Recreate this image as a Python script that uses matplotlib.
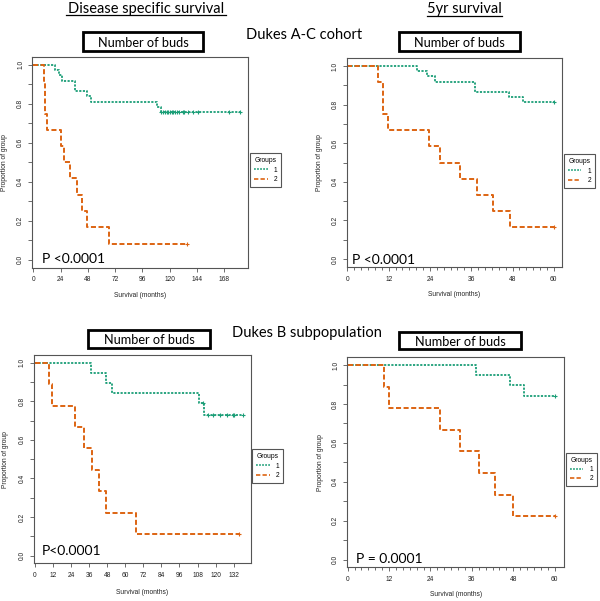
import matplotlib
matplotlib.use("Agg")
import matplotlib.pyplot as plt
import numpy as np
from matplotlib.lines import Line2D
from matplotlib.patches import Rectangle

# ---------------- data ----------------
# Dukes A-C, disease specific survival
ac_dss_g1_t = [0, 19.5, 23, 25.5, 37, 47, 51, 109, 112, 181.8]
ac_dss_g1_s = [1.0, 0.973, 0.946, 0.919, 0.865, 0.838, 0.811, 0.784, 0.757, 0.757]
ac_dss_g1_cens = [112.3, 114, 116, 117.3, 118.8, 120.2, 121.7, 123.2, 124.6, 126.1,
                  128.1, 131.4, 132.9, 136.4, 140.2, 145.2, 172.4, 181.8]
ac_dss_g2_t = [0, 9, 10.5, 12, 24, 27, 32.5, 38, 42.5, 47.5, 67, 135.5]
ac_dss_g2_s = [1.0, 0.917, 0.75, 0.667, 0.583, 0.5, 0.417, 0.333, 0.25, 0.167, 0.083, 0.083]
ac_dss_g2_cens = [135.5]

# Dukes A-C, 5 yr survival
ac_5y_g1_t = [0, 20.2, 23, 25.5, 37, 47, 51, 60]
ac_5y_g1_s = [1.0, 0.973, 0.946, 0.919, 0.865, 0.838, 0.811, 0.811]
ac_5y_g1_cens = [60]
ac_5y_g2_t = [0, 9, 10.4, 11.8, 23.6, 26.8, 32.7, 37.8, 42.4, 47.4, 60]
ac_5y_g2_s = [1.0, 0.917, 0.75, 0.667, 0.583, 0.5, 0.417, 0.333, 0.25, 0.167, 0.167]
ac_5y_g2_cens = [60]

# Dukes B, disease specific survival
b_dss_g1_t = [0, 37, 47, 51, 109, 112.3, 138.4]
b_dss_g1_s = [1.0, 0.947, 0.895, 0.842, 0.789, 0.731, 0.731]
b_dss_g1_cens = [111.8, 115.2, 118.5, 122.9, 127.4, 131.8, 132.4, 138.4]
b_dss_g2_t = [0, 9.5, 11.2, 26.6, 32.6, 38.1, 42.3, 47.3, 66.9, 135.5]
b_dss_g2_s = [1.0, 0.889, 0.778, 0.667, 0.556, 0.444, 0.333, 0.222, 0.111, 0.111]
b_dss_g2_cens = [135.5]

# Dukes B, 5 yr survival
b_5y_g1_t = [0, 37.2, 47.1, 51, 60]
b_5y_g1_s = [1.0, 0.947, 0.895, 0.842, 0.842]
b_5y_g1_cens = [60]
b_5y_g2_t = [0, 10.5, 11.9, 26.7, 32.7, 38.2, 42.8, 47.8, 60]
b_5y_g2_s = [1.0, 0.889, 0.778, 0.667, 0.556, 0.444, 0.333, 0.222, 0.222]
b_5y_g2_cens = [60]

group_labels = ["1", "2"]
y_ticks = [0.0, 0.2, 0.4, 0.6, 0.8, 1.0]
x_ticks_dss_ac = [0, 24, 48, 72, 96, 120, 144, 168]
x_ticks_5y = [0, 12, 24, 36, 48, 60]
x_ticks_dss_b = [0, 12, 24, 36, 48, 60, 72, 84, 96, 108, 120, 132]

p_texts = ["P <0.0001", "P <0.0001", "P<0.0001", "P = 0.0001"]

# ---------------- style ----------------
GREEN = "#1b9e77"
ORANGE = "#dd6412"
FRAME = "#555555"
TXT = ["Lato", "DejaVu Sans"]
SMALL = ["Liberation Sans", "DejaVu Sans"]
G_STYLE = (0, (1.2, 0.8))
O_STYLE = (0, (2.6, 1.3))

W, H = 600, 601
fig = plt.figure(figsize=(6.0, 6.01), dpi=100)
fig.patch.set_facecolor("white")


def fx(x):
    return x / W


def fy(y):
    return 1 - y / H


def axes_px(x0, y0, x1, y1):
    return fig.add_axes([fx(x0), fy(y1), (x1 - x0) / W, (y1 - y0) / H])


panels = [
    dict(box=(32.3, 57, 247.7, 267.5), xlim=(-0.9, 188.6), xt=x_ticks_dss_ac, minor=None,
         g1=(ac_dss_g1_t, ac_dss_g1_s, ac_dss_g1_cens), g2=(ac_dss_g2_t, ac_dss_g2_s, ac_dss_g2_cens),
         leg=(250.3, 153.3), p=(41.7, 263.3)),
    dict(box=(346.7, 58.3, 561.7, 266.7), xlim=(-0.2, 62.3), xt=x_ticks_5y, minor=2,
         g1=(ac_5y_g1_t, ac_5y_g1_s, ac_5y_g1_cens), g2=(ac_5y_g2_t, ac_5y_g2_s, ac_5y_g2_cens),
         leg=(564.0, 154.3), p=(351.7, 264.3)),
    dict(box=(34, 355, 251, 563.3), xlim=(-0.66, 143.5), xt=x_ticks_dss_b, minor=None,
         g1=(b_dss_g1_t, b_dss_g1_s, b_dss_g1_cens), g2=(b_dss_g2_t, b_dss_g2_s, b_dss_g2_cens),
         leg=(252.3, 449.3), p=(41.7, 555.0)),
    dict(box=(347.3, 357.3, 564.3, 567.3), xlim=(-0.1, 62.8), xt=x_ticks_5y, minor=2,
         g1=(b_5y_g1_t, b_5y_g1_s, b_5y_g1_cens), g2=(b_5y_g2_t, b_5y_g2_s, b_5y_g2_cens),
         leg=(566.0, 452.7), p=(356.0, 563.3)),
]

for i, pn in enumerate(panels):
    x0, y0, x1, y1 = pn["box"]
    ax = axes_px(x0, y0, x1, y1)
    ax.set_xlim(*pn["xlim"])
    ax.set_ylim(-0.04, 1.04)

    t1, s1, c1 = pn["g1"]
    t2, s2, c2 = pn["g2"]
    ax.step(t1, s1, where="post", color=GREEN, lw=1.3, linestyle=G_STYLE)
    ax.step(t2, s2, where="post", color=ORANGE, lw=1.4, linestyle=O_STYLE)
    # censor marks at the survival level in force at each time
    for (tt, ss, cc, col) in ((t1, s1, c1, GREEN), (t2, s2, c2, ORANGE)):
        idx = np.searchsorted(np.array(tt), np.array(cc), side="right") - 1
        ax.plot(cc, np.array(ss)[idx], linestyle="none", marker="+", color=col,
                markersize=3.4, markeredgewidth=0.8)

    for sp in ax.spines.values():
        sp.set_color(FRAME)
        sp.set_linewidth(0.8)

    ax.set_yticks(y_ticks)
    ax.set_yticklabels([f"{v:.1f}" for v in y_ticks], rotation=90, va="center",
                       fontfamily=SMALL, fontsize=4.8, color="#222222")
    ax.set_yticks([0.1, 0.3, 0.5, 0.7, 0.9], minor=True)
    ax.set_xticks(pn["xt"])
    ax.set_xticklabels([str(v) for v in pn["xt"]], fontfamily=SMALL, fontsize=4.8,
                       color="#222222")
    if pn["minor"]:
        ax.set_xticks([v for v in range(0, 61, pn["minor"]) if v % 12 != 0], minor=True)
    ax.tick_params(axis="both", which="both", length=2.8, width=0.6, color=FRAME)
    ax.tick_params(axis="y", which="major", pad=3.0)
    ax.tick_params(axis="x", which="major", pad=3.6)
    ax.tick_params(axis="x", which="minor", length=1.8)

    ax.set_xlabel("Survival (months)", fontfamily=SMALL, fontsize=4.8, color="#222222",
                  va="center")
    ax.set_ylabel("Proportion of group", fontfamily=SMALL, fontsize=4.8, color="#222222",
                  va="center")
    bw = (x1 - x0)
    bh = (y1 - y0)
    ylab_x = [5, 319.3, 6, 320][i]
    xlab_y = [295, 295, 592.7, 595][i]
    ax.yaxis.set_label_coords((ylab_x - x0) / bw, 0.5)
    ax.xaxis.set_label_coords(0.5, (y1 - xlab_y) / bh)

    handles = [Line2D([], [], color=GREEN, lw=1.1, linestyle=G_STYLE),
               Line2D([], [], color=ORANGE, lw=1.2, linestyle=O_STYLE)]
    lx, ly = pn["leg"]
    leg = ax.legend(handles, group_labels, title="Groups", loc="upper left",
                    bbox_to_anchor=(fx(lx), fy(ly)), bbox_transform=fig.transFigure,
                    fancybox=False, frameon=True, edgecolor=FRAME, framealpha=1,
                    prop=dict(family=SMALL, size=4.8),
                    title_fontproperties=dict(family=SMALL, size=4.8),
                    handlelength=2.0, handletextpad=0.9, borderpad=0.6, labelspacing=0.35,
                    borderaxespad=0)
    leg.get_frame().set_linewidth(0.8)

    px, py = pn["p"]
    fig.text(fx(px), fy(py), p_texts[i], fontfamily=TXT, fontsize=10.0, color="black",
             ha="left", va="baseline")

# ---------------- titles / boxes ----------------
def title(x, y, s, size, underline=None):
    fig.text(fx(x), fy(y), s, fontfamily=TXT, fontsize=size, ha="center", va="baseline",
             color="black")
    if underline is not None:
        ux0, ux1, uy = underline
        fig.add_artist(Line2D([fx(ux0), fx(ux1)], [fy(uy), fy(uy)], transform=fig.transFigure,
                              color="black", lw=0.9))


title(146, 12.7, "Disease specific survival", 10.5, (65.7, 226, 15))
title(464.5, 13.5, "5yr survival", 10.5, (426.7, 502.3, 15.8))
title(304, 39, "Dukes A-C cohort", 10.5)
title(306.7, 336.7, "Dukes B subpopulation", 10.5)

boxes = [(83.3, 32.3, 202.7, 51, 46.7), (399, 32.3, 520, 51, 46.7),
         (88.3, 330, 210, 347.7, 344), (399.3, 331.7, 520.7, 349.3, 345.7)]
for (bx0, by0, bx1, by1, base) in boxes:
    fig.add_artist(Rectangle((fx(bx0), fy(by1)), (bx1 - bx0) / W, (by1 - by0) / H,
                             transform=fig.transFigure, facecolor="white", edgecolor="black",
                             lw=2.0))
    fig.text(fx((bx0 + bx1) / 2), fy(base), "Number of buds", fontfamily=TXT, fontsize=9.2,
             ha="center", va="baseline", color="black")

fig.savefig("out.png", dpi=100, facecolor="white")
